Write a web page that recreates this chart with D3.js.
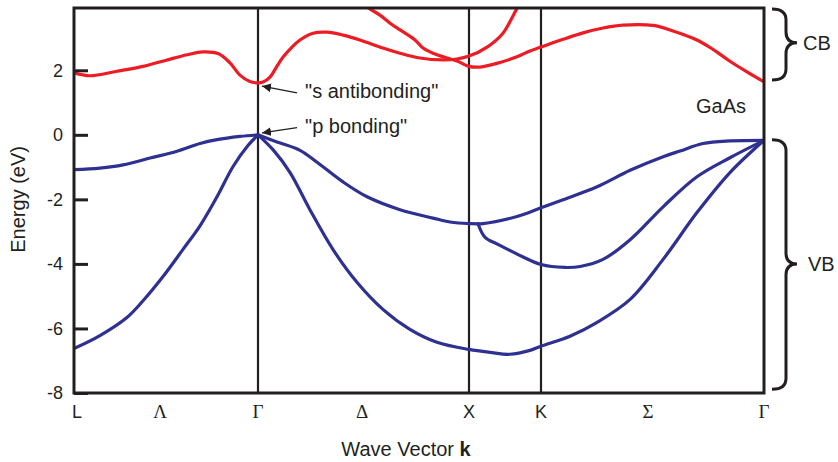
<!DOCTYPE html>
<html>
<head>
<meta charset="utf-8">
<script src="https://cdn.jsdelivr.net/npm/d3@7"></script>
<style>
    body { margin: 0; background: #fff; }
    text { font-family: "Liberation Sans", Arial, sans-serif; fill: #231f20; }
</style>
</head>
<body>
<div id="chart"></div>
<script>
// symmetry points along the k path (L, Γ, X, K, Γ)
let kSym = [0, 0.866, 1.866, 2.220, 3.281]
let kLabels = ["L", "Λ", "Γ", "Δ", "X", "K", "Σ", "Γ"]
let kLabelPos = [0, 0.405, 0.866, 1.359, 1.866, 2.220, 2.729, 3.281]
let yTicks = [2, 0, -2, -4, -6, -8]

// conduction bands (red), [k, E in eV]
let cbLG = [[0, 1.92], [0.075, 1.83], [0.202, 1.97], [0.325, 2.12], [0.438, 2.32], [0.532, 2.48],
    [0.607, 2.57], [0.678, 2.52], [0.734, 2.23], [0.781, 1.85], [0.828, 1.65], [0.866, 1.61]]
let cbA = [[0.866, 1.61], [0.890, 1.64], [0.923, 1.79], [0.956, 2.13], [0.985, 2.41], [1.027, 2.72],
    [1.065, 2.94], [1.127, 3.15], [1.193, 3.18], [1.269, 3.09], [1.349, 2.94], [1.458, 2.69],
    [1.539, 2.53], [1.634, 2.38], [1.743, 2.32], [1.809, 2.35], [1.866, 2.44], [1.955, 2.72],
    [2.033, 3.15], [2.077, 3.62], [2.107, 3.99], [2.122, 4.17]]
let cbB = [[1.340, 4.23], [1.383, 3.96], [1.444, 3.71], [1.492, 3.46], [1.539, 3.25], [1.610, 2.94],
    [1.648, 2.69], [1.695, 2.53], [1.762, 2.38], [1.809, 2.29], [1.866, 2.12], [1.920, 2.10],
    [2.018, 2.24], [2.102, 2.42], [2.166, 2.60], [2.220, 2.72], [2.325, 2.96], [2.420, 3.16],
    [2.515, 3.31], [2.610, 3.40], [2.753, 3.39], [2.848, 3.22], [2.962, 2.94], [3.038, 2.65],
    [3.119, 2.28], [3.200, 1.95], [3.281, 1.64]]

// valence bands (blue)
let vbUpperLG = [[0, -1.08], [0.122, -1.03], [0.231, -0.93], [0.358, -0.72], [0.485, -0.51],
    [0.593, -0.27], [0.673, -0.15], [0.781, -0.05], [0.866, 0]]
let vbLowerLG = [[0, -6.62], [0.122, -6.22], [0.249, -5.66], [0.325, -5.14], [0.419, -4.39],
    [0.513, -3.55], [0.593, -2.82], [0.673, -1.92], [0.748, -0.99], [0.814, -0.37], [0.866, 0]]
let vbUpper = [[0.866, 0], [0.956, -0.22], [1.065, -0.48], [1.146, -0.85], [1.269, -1.46],
    [1.383, -1.92], [1.539, -2.32], [1.695, -2.58], [1.776, -2.70], [1.866, -2.75], [1.935, -2.75],
    [2.102, -2.53], [2.220, -2.26], [2.325, -2.01], [2.487, -1.61], [2.644, -1.10], [2.801, -0.68],
    [2.882, -0.50], [2.991, -0.27], [3.119, -0.19], [3.281, -0.17]]
let vbMid = [[1.910, -2.75], [1.945, -3.18], [2.010, -3.40], [2.127, -3.77], [2.220, -4.02],
    [2.334, -4.11], [2.406, -4.08], [2.515, -3.86], [2.644, -3.25], [2.801, -2.23], [2.962, -1.30],
    [3.119, -0.71], [3.281, -0.17]]
let vbLower = [[0.866, 0], [0.937, -0.46], [1.018, -1.17], [1.112, -2.32], [1.221, -3.55],
    [1.335, -4.57], [1.458, -5.41], [1.586, -6.03], [1.714, -6.43], [1.866, -6.65], [1.969, -6.74],
    [2.067, -6.80], [2.166, -6.68], [2.220, -6.55], [2.358, -6.24], [2.487, -5.81], [2.644, -5.10],
    [2.801, -3.86], [2.962, -2.41], [3.119, -1.17], [3.281, -0.17]]

let width = 838
let height = 462
let red = "#ed1c24"
let blue = "#2e3192"
let ink = "#231f20"

let svg = d3.select("#chart")
    .append("svg")
    .attr("width", width)
    .attr("height", height)

let x = d3.scaleLinear()
    .domain(kSym)
    .range([74, 258, 469, 541, 764])
let y = d3.scaleLinear()
    .domain([-8, 3.93])
    .range([393, 8])

svg.append("defs").append("clipPath")
    .attr("id", "plotClip")
    .append("rect")
    .attr("x", x(0)).attr("y", y(3.93))
    .attr("width", x(3.281) - x(0)).attr("height", y(-8) - y(3.93))

svg.select("defs").append("marker")
    .attr("id", "arrow")
    .attr("viewBox", "0 0 10 10")
    .attr("refX", 10).attr("refY", 5)
    .attr("markerWidth", 9).attr("markerHeight", 9)
    .attr("markerUnits", "userSpaceOnUse")
    .attr("orient", "auto")
    .append("path")
    .attr("d", "M0,0 L10,5 L0,10 z")
    .attr("fill", ink)

let line = d3.line()
    .x(d => x(d[0]))
    .y(d => y(d[1]))
    .curve(d3.curveCatmullRom.alpha(0.5))

let bands = [
    { pts: cbLG, color: red }, { pts: cbA, color: red }, { pts: cbB, color: red },
    { pts: vbUpperLG, color: blue }, { pts: vbLowerLG, color: blue }, { pts: vbUpper, color: blue },
    { pts: vbMid, color: blue }, { pts: vbLower, color: blue }
]

// inner symmetry lines
svg.selectAll(".sym")
    .data(kSym.slice(1, 4))
    .enter()
    .append("line")
    .attr("x1", d => x(d)).attr("x2", d => x(d))
    .attr("y1", y(3.93)).attr("y2", y(-8))
    .attr("stroke", ink)
    .attr("stroke-width", 2.2)

svg.append("g")
    .attr("clip-path", "url(#plotClip)")
    .selectAll("path")
    .data(bands)
    .enter()
    .append("path")
    .attr("d", d => line(d.pts))
    .attr("fill", "none")
    .attr("stroke", d => d.color)
    .attr("stroke-width", 3.2)
    .attr("stroke-linejoin", "round")
    .attr("stroke-linecap", "round")

// frame
svg.append("rect")
    .attr("x", x(0)).attr("y", y(3.93))
    .attr("width", x(3.281) - x(0)).attr("height", y(-8) - y(3.93))
    .attr("fill", "none")
    .attr("stroke", ink)
    .attr("stroke-width", 3)

let yAxis = svg.append("g")
    .attr("transform", "translate(" + x(0) + ",0)")
    .call(d3.axisLeft(y).tickValues(yTicks).tickSize(-14).tickPadding(11).tickFormat(d3.format("d")))
yAxis.select(".domain").remove()
yAxis.selectAll(".tick line").attr("stroke", ink).attr("stroke-width", 3)
yAxis.selectAll(".tick text")
    .attr("font-size", 18)
    .attr("font-family", "Liberation Sans, Arial, sans-serif")
    .attr("fill", ink)
    .text(d => d < 0 ? "-" + Math.abs(d) : d)

svg.selectAll(".klab")
    .data(kLabels)
    .enter()
    .append("text")
    .attr("x", (d, i) => x(kLabelPos[i]) + (i === 0 ? 3 : 0))
    .attr("y", 418)
    .attr("text-anchor", "middle")
    .attr("font-size", d => /[A-Z]/.test(d) ? 18 : 19)
    .style("font-family", d => /[A-Z]/.test(d) ? "Liberation Sans, Arial, sans-serif" : "Liberation Serif, Times New Roman, serif")
    .text(d => d)

let xTitle = svg.append("text")
    .attr("x", 406)
    .attr("y", 456)
    .attr("text-anchor", "middle")
    .attr("font-size", 20)
xTitle.append("tspan").text("Wave Vector ")
xTitle.append("tspan").attr("font-weight", "bold").text("k")

svg.append("text")
    .attr("transform", "translate(25," + y(-2) + ") rotate(-90)")
    .attr("text-anchor", "middle")
    .attr("font-size", 20)
    .text("Energy (eV)")

// annotations
let notes = [
    { text: "\"s antibonding\"", tip: [0.885, 1.51], tail: [1.051, 1.30], at: [1.089, 1.14] },
    { text: "\"p bonding\"", tip: [0.885, 0.06], tail: [1.051, 0.22], at: [1.089, 0.06] }
]
notes.forEach(n => {
    svg.append("line")
        .attr("x1", x(n.tail[0])).attr("y1", y(n.tail[1]))
        .attr("x2", x(n.tip[0])).attr("y2", y(n.tip[1]))
        .attr("stroke", ink)
        .attr("stroke-width", 1.3)
        .attr("marker-end", "url(#arrow)")
    svg.append("text")
        .attr("x", x(n.at[0]))
        .attr("y", y(n.at[1]))
        .attr("font-size", 20)
        .text(n.text)
})

svg.append("text")
    .attr("x", 721)
    .attr("y", 113)
    .attr("text-anchor", "middle")
    .attr("font-size", 20)
    .text("GaAs")

// curly braces for CB / VB
function brace(top, bottom, mid) {
    let x0 = 772, xs = 786, xt = 797, r = 11
    return "M" + x0 + "," + top +
        " Q" + xs + "," + top + " " + xs + "," + (top + r) +
        " L" + xs + "," + (mid - r) +
        " Q" + xs + "," + mid + " " + xt + "," + mid +
        " Q" + xs + "," + mid + " " + xs + "," + (mid + r) +
        " L" + xs + "," + (bottom - r) +
        " Q" + xs + "," + bottom + " " + x0 + "," + bottom
}
let groups = [
    { name: "CB", top: 3.90, bottom: 1.70, mid: 2.85, dx: 803 },
    { name: "VB", top: -0.15, bottom: -7.88, mid: -4.0, dx: 808 }
]
groups.forEach(g => {
    svg.append("path")
        .attr("d", brace(y(g.top), y(g.bottom), y(g.mid)))
        .attr("fill", "none")
        .attr("stroke", ink)
        .attr("stroke-width", 3)
    svg.append("text")
        .attr("x", g.dx)
        .attr("y", y(g.mid) + 7)
        .attr("font-size", 20)
        .text(g.name)
})
</script>
</body>
</html>
